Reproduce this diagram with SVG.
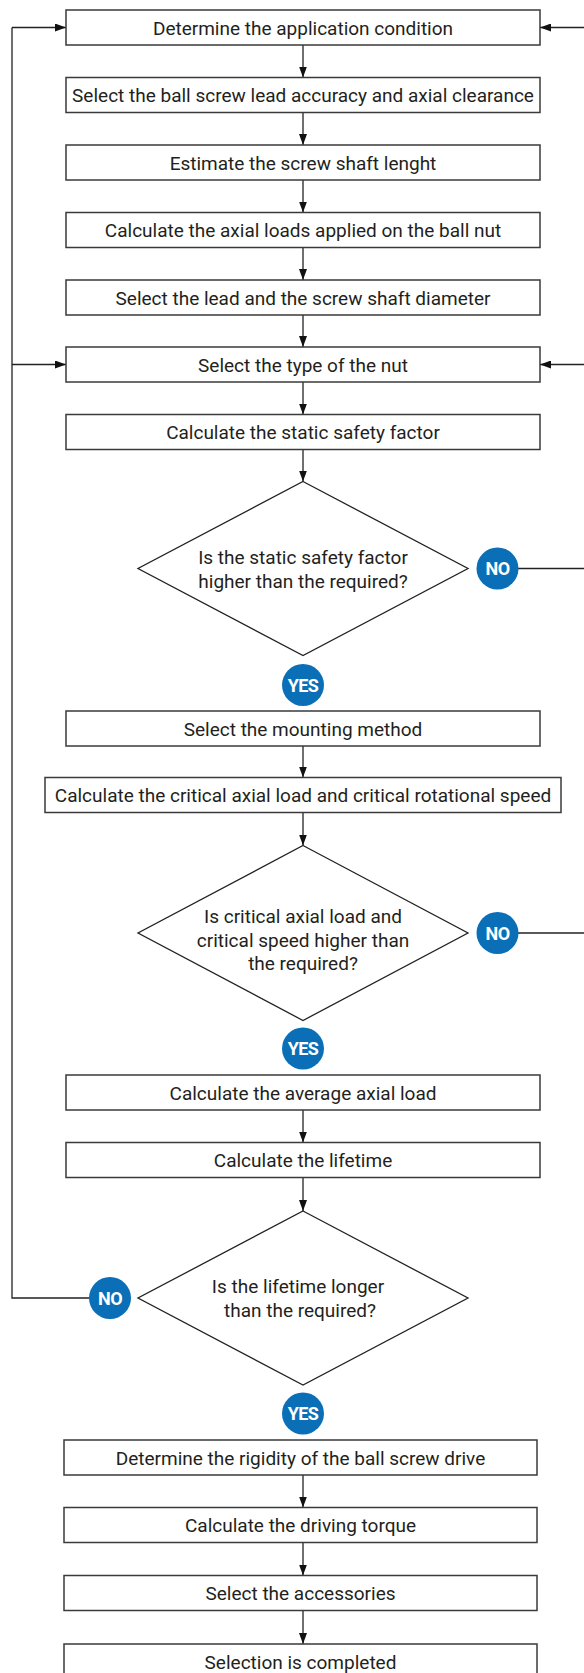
<svg xmlns="http://www.w3.org/2000/svg" width="584" height="1673" viewBox="0 0 584 1673">
<style>
.box{fill:#fff;stroke:#3a3a3a;stroke-width:1.5}
.dia{fill:#fff;stroke:#222;stroke-width:1.3}
.t{font-family:Roboto,"Liberation Sans",sans-serif;font-size:19px;fill:#231f20;text-anchor:middle}
.c{fill:#0a6fb7}
.ct{font-family:Roboto,"Liberation Sans",sans-serif;font-size:18px;font-weight:700;fill:#fff;text-anchor:middle;letter-spacing:-0.6px}
.ln{fill:none;stroke:#222;stroke-width:1.3}
</style>
<defs>
<marker id="ah" markerUnits="userSpaceOnUse" markerWidth="11" markerHeight="8" refX="11" refY="4" orient="auto">
<path d="M0,0 L11,4 L0,8 z" fill="#111"/>
</marker>
</defs>
<rect width="584" height="1673" fill="#fff"/>
<g id="connectors">
<line class="ln" x1="303" y1="45" x2="303" y2="77.5" marker-end="url(#ah)"/>
<line class="ln" x1="303" y1="112.5" x2="303" y2="145" marker-end="url(#ah)"/>
<line class="ln" x1="303" y1="180" x2="303" y2="212.5" marker-end="url(#ah)"/>
<line class="ln" x1="303" y1="247.5" x2="303" y2="280" marker-end="url(#ah)"/>
<line class="ln" x1="303" y1="315" x2="303" y2="347" marker-end="url(#ah)"/>
<line class="ln" x1="303" y1="382" x2="303" y2="414.5" marker-end="url(#ah)"/>
<line class="ln" x1="303" y1="449.5" x2="303" y2="481.5" marker-end="url(#ah)"/>
<line class="ln" x1="303" y1="746" x2="303" y2="777.5" marker-end="url(#ah)"/>
<line class="ln" x1="303" y1="812.5" x2="303" y2="845.5" marker-end="url(#ah)"/>
<line class="ln" x1="303" y1="1110" x2="303" y2="1142.5" marker-end="url(#ah)"/>
<line class="ln" x1="303" y1="1177.5" x2="303" y2="1211" marker-end="url(#ah)"/>
<line class="ln" x1="303" y1="1475" x2="303" y2="1507.5" marker-end="url(#ah)"/>
<line class="ln" x1="303" y1="1542.5" x2="303" y2="1575.5" marker-end="url(#ah)"/>
<line class="ln" x1="303" y1="1610.5" x2="303" y2="1644" marker-end="url(#ah)"/>
<line class="ln" x1="584" y1="27.5" x2="540" y2="27.5" marker-end="url(#ah)"/>
<line class="ln" x1="584" y1="364.5" x2="540" y2="364.5" marker-end="url(#ah)"/>
<line class="ln" x1="12" y1="27.5" x2="66" y2="27.5" marker-end="url(#ah)"/>
<line class="ln" x1="12" y1="364.5" x2="66" y2="364.5" marker-end="url(#ah)"/>
<polyline class="ln" points="90,1298 12,1298 12,27.5"/>
<line class="ln" x1="518" y1="568.5" x2="584" y2="568.5"/>
<line class="ln" x1="518" y1="933" x2="584" y2="933"/>
</g>
<g id="b1"><rect class="box" x="66" y="10" width="474" height="35"/><text class="t" x="303" y="34.5">Determine the application condition</text></g>
<g id="b2"><rect class="box" x="66" y="77.5" width="474" height="35"/><text class="t" x="303" y="102">Select the ball screw lead accuracy and axial clearance</text></g>
<g id="b3"><rect class="box" x="66" y="145" width="474" height="35"/><text class="t" x="303" y="169.5">Estimate the screw shaft lenght</text></g>
<g id="b4"><rect class="box" x="66" y="212.5" width="474" height="35"/><text class="t" x="303" y="237">Calculate the axial loads applied on the ball nut</text></g>
<g id="b5"><rect class="box" x="66" y="280" width="474" height="35"/><text class="t" x="303" y="304.5">Select the lead and the screw shaft diameter</text></g>
<g id="b6"><rect class="box" x="66" y="347" width="474" height="35"/><text class="t" x="303" y="371.5">Select the type of the nut</text></g>
<g id="b7"><rect class="box" x="66" y="414.5" width="474" height="35"/><text class="t" x="303" y="439">Calculate the static safety factor</text></g>
<g id="d1"><polygon class="dia" points="303,481.5 468,568.5 303,655.5 138,568.5"/><text class="t" x="303" y="564">Is the static safety factor</text><text class="t" x="303" y="588">higher than the required?</text></g>
<g id="no1"><circle class="c" cx="497.5" cy="568.5" r="21"/><text class="ct" x="497.5" y="575">NO</text></g>
<g id="yes1"><circle class="c" cx="303" cy="685" r="21"/><text class="ct" x="303" y="691.5">YES</text></g>
<g id="b8"><rect class="box" x="66" y="711" width="474" height="35"/><text class="t" x="303" y="735.5">Select the mounting method</text></g>
<g id="b9"><rect class="box" x="45" y="777.5" width="516" height="35"/><text class="t" x="303" y="802">Calculate the critical axial load and critical rotational speed</text></g>
<g id="d2"><polygon class="dia" points="303,845.5 468,933 303,1020.5 138,933"/><text class="t" x="303" y="923">Is critical axial load and</text><text class="t" x="303" y="946.5">critical speed higher than</text><text class="t" x="303" y="970">the required?</text></g>
<g id="no2"><circle class="c" cx="497.5" cy="933" r="21"/><text class="ct" x="497.5" y="939.5">NO</text></g>
<g id="yes2"><circle class="c" cx="303" cy="1048.5" r="21"/><text class="ct" x="303" y="1055">YES</text></g>
<g id="b10"><rect class="box" x="66" y="1075" width="474" height="35"/><text class="t" x="303" y="1099.5">Calculate the average axial load</text></g>
<g id="b11"><rect class="box" x="66" y="1142.5" width="474" height="35"/><text class="t" x="303" y="1167">Calculate the lifetime</text></g>
<g id="d3"><polygon class="dia" points="303,1211 468,1298 303,1385 138,1298"/><text class="t" x="298" y="1293">Is the lifetime longer</text><text class="t" x="300" y="1316.5">than the required?</text></g>
<g id="no3"><circle class="c" cx="110" cy="1298" r="21"/><text class="ct" x="110" y="1304.5">NO</text></g>
<g id="yes3"><circle class="c" cx="303" cy="1413.5" r="21"/><text class="ct" x="303" y="1420">YES</text></g>
<g id="b12"><rect class="box" x="64" y="1440" width="473" height="35"/><text class="t" x="300.5" y="1464.5">Determine the rigidity of the ball screw drive</text></g>
<g id="b13"><rect class="box" x="64" y="1507.5" width="473" height="35"/><text class="t" x="300.5" y="1532">Calculate the driving torque</text></g>
<g id="b14"><rect class="box" x="64" y="1575.5" width="473" height="35"/><text class="t" x="300.5" y="1600">Select the accessories</text></g>
<g id="b15"><rect class="box" x="64" y="1644" width="473" height="35"/><text class="t" x="300.5" y="1668.5">Selection is completed</text></g>
</svg>
